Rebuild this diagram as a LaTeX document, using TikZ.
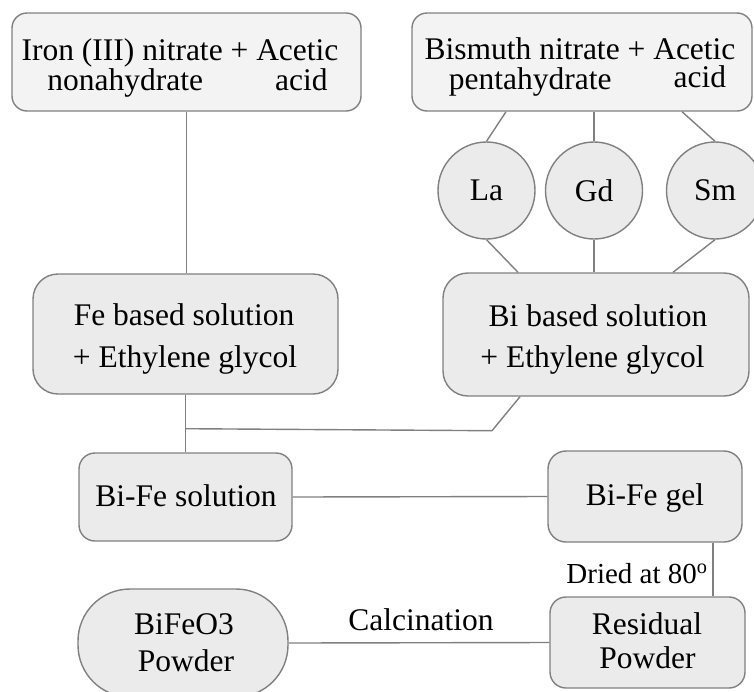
\documentclass[tikz,border=0pt]{standalone}
\usepackage{fontspec}
\setmainfont{Liberation Serif}
\usetikzlibrary{calc}
\definecolor{edgegray}{HTML}{808080}
\definecolor{fillA}{HTML}{F3F3F3}
\definecolor{fillB}{HTML}{EBEBEB}
\newcommand{\fsz}{\fontsize{31.5}{36}\selectfont}
\newcommand{\fsm}{\fontsize{29}{34}\selectfont}
\begin{document}
\begin{tikzpicture}[x=1pt,y=-1pt,
  box/.style={draw=edgegray, line width=1.4pt, fill=fillB, rounded corners=#1, inner sep=0pt},
  box/.default=16pt,
  disc/.style={circle, draw=edgegray, line width=1.4pt, fill=fillB, minimum size=97pt, inner sep=0pt, font=\fsz},
  lab/.style={font=\fsz, anchor=base, inner sep=0pt},
  link/.style={draw=edgegray, line width=1.4pt}]
\useasboundingbox (0,0) rectangle (754,691);
\fill[white] (0,0) rectangle (754,691);
\clip (0,0) rectangle (754,691);

% boxes
\node[box=15pt, fill=fillA, minimum width=349pt, minimum height=98pt] (tl) at (186.5,62) {};
\node[box=15pt, fill=fillA, minimum width=340pt, minimum height=98pt] (tr) at (582,62) {};
\node[disc] (la) at (486.5,190.5) {La};
\node[disc] (gd) at (594,190.5) {Gd};
\node[disc] (sm) at (715,190.5) {Sm};
\node[box=25pt, minimum width=305pt, minimum height=120pt] (fe) at (185.5,334) {};
\node[box=25pt, minimum width=306pt, minimum height=123pt] (bi) at (596,334.5) {};
\node[box=16pt, minimum width=213pt, minimum height=88pt] (sol) at (185.5,497) {};
\node[box=18pt, minimum width=194pt, minimum height=91pt] (gel) at (645,496.5) {};
\node[box=16pt, minimum width=195pt, minimum height=91pt] (res) at (647.5,642.5) {};
\node[box=52pt, minimum width=210pt, minimum height=108pt] (bfo) at (183,643) {};

% texts
\node[lab] (t1) at (180,60) {\begin{tabular}[t]{@{}c@{ }c@{ }c@{}}Iron (III) nitrate & + & Acetic\\[-6pt]\hspace*{6pt}nonahydrate & & \hspace*{8pt}acid\end{tabular}};
\node[lab] (t2) at (580,59) {\begin{tabular}[t]{@{}c@{ }c@{ }c@{}}Bismuth nitrate & + & Acetic\\[-6pt]\hspace*{16pt}pentahydrate & & \hspace*{11pt}\raisebox{1.5pt}{acid}\end{tabular}};
\node[lab] (t3a) at (184,325) {Fe based solution};
\node[lab] (t3b) at (185,367) {+ Ethylene glycol};
\node[lab] (t4a) at (598,326.5) {Bi based solution};
\node[lab] (t4b) at (592.5,367) {+ Ethylene glycol};
\node[lab] (t5) at (186,506) {Bi-Fe solution};
\node[lab] (t6) at (645,505) {Bi-Fe gel};
\node[lab] (t7a) at (647,634) {Residual};
\node[lab] (t7b) at (647.5,668) {Powder};
\node[lab] (t8a) at (184,634) {BiFeO3};
\node[lab] (t8b) at (186,671) {Powder};
\node[lab] (calc) at (421,630) {Calcination};
\node[lab, font=\fsm] (dried) at (637,583) {Dried at 80\textsuperscript{o}};

% connectors
\draw[link] (tl.south) -- (tl.south |- fe.north);
\draw[link] ([xshift=-76pt]tr.south) -- (la.north);
\draw[link] (gd.north |- tr.south) -- (gd.north);
\draw[link] ([xshift=100pt]tr.south) -- (sm.north);
\draw[link] (la.south) -- ([xshift=-78pt]bi.north);
\draw[link] (gd.south) -- (gd.south |- bi.north);
\draw[link] (sm.south) -- ([xshift=77pt]bi.north);
\draw[link] (fe.south) -- (sol.north);
\coordinate (j) at ($(fe.south)+(0,34)$);
\coordinate (k) at ($(bi.south)+(-104,34)$);
\draw[link] (j) -- (k) -- ([xshift=-76pt]bi.south);
\draw[link] (sol.east) -- (gel.west);
\draw[link] ([xshift=68pt]gel.south) -- ([xshift=68pt]gel.south |- res.north);
\draw[link] (bfo.east) -- (res.west);
\end{tikzpicture}
\end{document}
